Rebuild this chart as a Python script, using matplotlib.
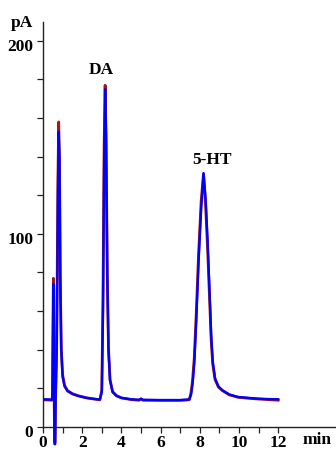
import matplotlib
matplotlib.use("Agg")
import matplotlib.pyplot as plt
import matplotlib.transforms as mtransforms
from matplotlib.ticker import MultipleLocator, FixedLocator

# chromatogram (time in min, signal in pA)
time_min = [0.00, 0.30, 0.45, 0.48, 0.51, 0.53, 0.55, 0.57, 0.59, 0.62, 0.64,
            0.70, 0.76, 0.80, 0.84, 0.88, 0.93, 1.00, 1.10, 1.25, 1.50, 1.80,
            2.20, 2.60, 2.90, 3.00, 3.06, 3.12, 3.17, 3.22, 3.28, 3.34, 3.42,
            3.55, 3.75, 4.00, 4.50, 4.90, 5.00, 5.10, 6.00, 7.00,
            7.46, 7.55, 7.63, 7.72, 7.82, 7.94, 8.07, 8.19, 8.30, 8.40, 8.50,
            8.58, 8.66, 8.78, 8.95, 9.15, 9.50, 9.95, 10.50, 11.00, 11.50, 12.00]
signal_blue = [14.3, 14.2, 14.0, 15.0, 50.0, 74.0, 50.0, 16.0, -9.0, -9.0, 14.0,
               40.0, 120.0, 153.0, 140.0, 80.0, 40.0, 26.0, 21.0, 18.5, 17.0, 16.0,
               15.0, 14.5, 14.2, 18.0, 60.0, 140.0, 175.0, 150.0, 80.0, 40.0, 24.0,
               18.0, 16.0, 15.0, 14.3, 14.0, 14.6, 14.0, 13.9, 13.9,
               14.2, 16.5, 22.0, 33.0, 55.0, 86.0, 113.0, 131.5, 118.0, 96.0, 70.0,
               48.0, 34.0, 25.0, 21.0, 19.0, 16.8, 15.5, 15.0, 14.6, 14.4, 14.3]
signal_red = [14.0, 13.9, 13.8, 16.0, 55.0, 77.0, 48.0, 15.0, -8.0, -8.0, 14.0,
              45.0, 128.0, 158.0, 138.0, 78.0, 41.0, 27.0, 21.5, 18.8, 17.2, 16.1,
              15.1, 14.4, 14.0, 19.0, 66.0, 146.0, 177.0, 146.0, 78.0, 41.0, 24.5,
              18.3, 16.2, 15.0, 14.1, 13.8, 14.4, 13.8, 13.7, 13.7,
              14.0, 17.5, 24.0, 36.0, 59.0, 90.0, 117.0, 131.0, 114.0, 92.0, 66.0,
              45.0, 32.5, 24.5, 20.6, 18.8, 16.6, 15.3, 14.8, 14.4, 14.1, 13.8]

peak_names = ["DA", "5-HT"]
peak_pos = [(2.95, 181), (8.6, 134)]

x_major = [0, 2, 4, 6, 8, 10, 12]
x_minor = [1, 3, 5, 7, 9, 11]
y_major = [0, 100, 200]

plt.rcParams["font.family"] = "Liberation Serif"
plt.rcParams["font.weight"] = "bold"

fig = plt.figure(figsize=(3.36, 4.5), dpi=100)
ax = fig.add_axes([0.128, 0.0, 0.872, 0.952])

ax.plot(time_min, signal_red, color="#a01818", lw=2.0, zorder=2)
ax.plot(time_min, signal_blue, color="#0000ff", lw=1.7, zorder=3)

ax.set_xlim(0, 14.95)
ax.set_ylim(-12, 210)

ax.spines["top"].set_visible(False)
ax.spines["right"].set_visible(False)
ax.spines["bottom"].set_position(("data", 0))
ax.spines["left"].set_bounds(0, 210)
for sp in ("left", "bottom"):
    ax.spines[sp].set_linewidth(1.0)
    ax.spines[sp].set_color("#222222")

ax.xaxis.set_major_locator(FixedLocator(x_major))
ax.xaxis.set_minor_locator(FixedLocator(x_minor))
ax.yaxis.set_major_locator(FixedLocator(y_major))
ax.yaxis.set_minor_locator(MultipleLocator(20))
ax.tick_params(which="both", direction="out", length=4, width=0.9, color="#222222")
ax.tick_params(axis="x", labelsize=12.5, pad=2)
ax.tick_params(axis="y", labelsize=12.5, pad=3)
shift = mtransforms.ScaledTranslation(0, -0.045, fig.dpi_scale_trans)
for lab in ax.get_yticklabels():
    lab.set_transform(lab.get_transform() + shift)
for lab in ax.get_xticklabels() + ax.get_yticklabels():
    lab.set_fontweight("bold")

for name, (px, py) in zip(peak_names, peak_pos):
    ax.text(px, py, name, ha="center", va="bottom", fontsize=12.5, fontweight="bold")

fig.text(0.065, 0.948, "pA", ha="center", va="center", fontsize=12.5, fontweight="bold")
fig.text(0.945, 0.022, "min", ha="center", va="center", fontsize=12.5, fontweight="bold")

fig.savefig("out.png", dpi=100)
